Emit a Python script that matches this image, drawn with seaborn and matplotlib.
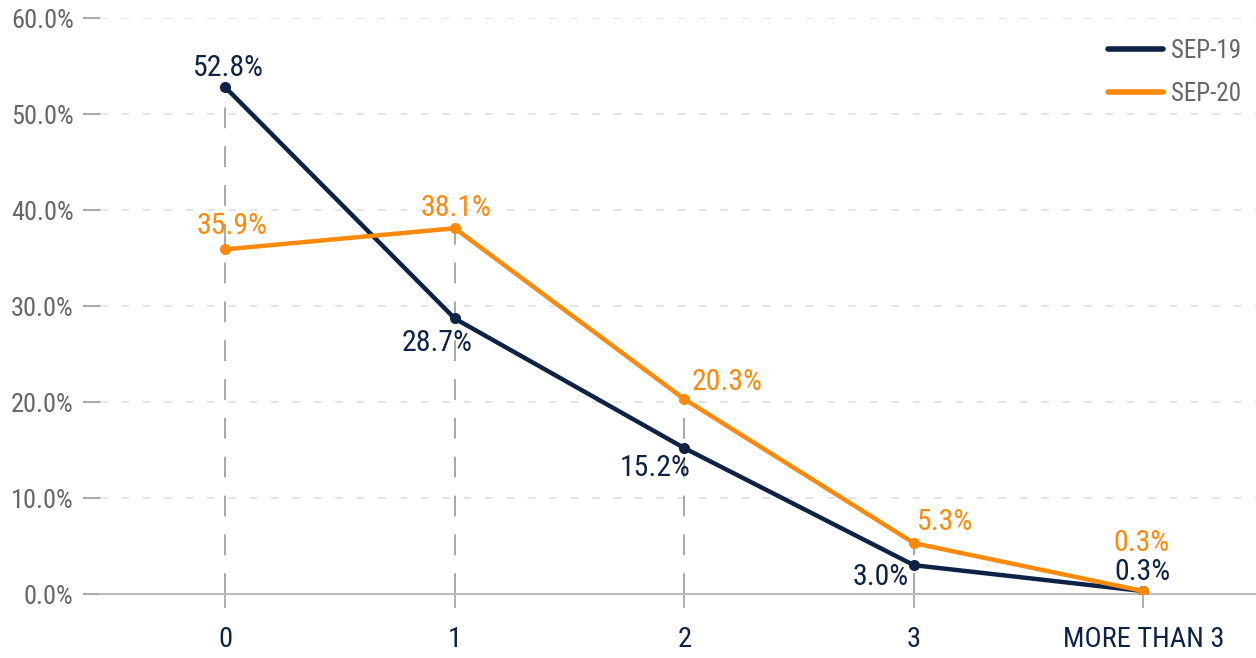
import matplotlib
matplotlib.use("Agg")
import matplotlib.pyplot as plt
from matplotlib import font_manager
import seaborn as sns
import pandas as pd

categories = ["0", "1", "2", "3", "MORE THAN 3"]
sep19 = [52.8, 28.7, 15.2, 3.0, 0.3]
sep20 = [35.9, 38.1, 20.3, 5.3, 0.3]
series_names = ["SEP-19", "SEP-20"]
yticks = [0, 10, 20, 30, 40, 50, 60]

NAVY = "#0d2245"
ORANGE = "#fb8a0c"
GREY_TXT = "#666666"

sns.set_theme(style="white")
names = {f.name for f in font_manager.fontManager.ttflist}
fam = "Roboto Condensed" if "Roboto Condensed" in names else "Roboto"
plt.rcParams["font.family"] = [fam, "DejaVu Sans"]

df = pd.DataFrame({
    "cat": categories * 2,
    "val": sep19 + sep20,
    "series": [series_names[0]] * len(categories) + [series_names[1]] * len(categories),
})

fig = plt.figure(figsize=(12.56, 6.58), dpi=100)
ax = fig.add_axes([100 / 1256, 64 / 658, 1156 / 1256, 576 / 658])

# vertical dashed guides from max point down to axis
tops = [max(a, b) for a, b in zip(sep19, sep20)]
ax.vlines(categories, 0, tops, colors="#a0a0a0", linestyles=(0, (11.5, 10)), linewidth=1.3, zorder=1)

sns.lineplot(data=df, x="cat", y="val", hue="series", palette=[NAVY, ORANGE],
             sort=False, marker="o", markersize=8, markeredgewidth=0,
             linewidth=3.2, ax=ax, zorder=3)

ax.set_xlim(-0.545, 4.49)
ax.set_ylim(0, 60)
ax.set_yticks(yticks)
ax.set_yticklabels([f"{v:.1f}%" for v in yticks], color=GREY_TXT, fontsize=19)
ax.set_xticks(range(len(categories)))
ax.set_xticklabels(categories, color=NAVY, fontsize=20.5)
ax.set_xlabel("")
ax.set_ylabel("")

ax.yaxis.grid(True, color="#dddddd", linestyle=(0, (5, 9)), linewidth=1.1)
ax.xaxis.grid(False)
for s in ["top", "right", "left"]:
    ax.spines[s].set_visible(False)
ax.spines["bottom"].set_color("#bbbbbb")
ax.spines["bottom"].set_linewidth(1.5)
ax.tick_params(axis="y", which="major", left=True, length=12, width=1.5, color="#aaaaaa", pad=7)
ax.tick_params(axis="x", which="major", bottom=True, length=10, width=1.3, color="#aaaaaa", pad=13)

# data labels: offsets (pixels) of label centre from point
off19 = [(3, -19), (-18, 25), (-29, 20), (-33, 12), (-1, -19)]
off20 = [(7, -23), (1, -20), (43, -17), (31, -21), (-2, -48)]
k = 0.72
for vals, offs, col in [(sep19, off19, NAVY), (sep20, off20, ORANGE)]:
    for c, v, (dx, dy) in zip(categories, vals, offs):
        ax.annotate(f"{v:.1f}%", xy=(c, v), xytext=(dx * k, -dy * k), textcoords="offset points",
                    ha="center", va="center", color=col, fontsize=21.5, zorder=5,
                    annotation_clip=False)

leg = ax.legend(loc="upper right", frameon=False, fontsize=18, handlelength=2.2,
                labelspacing=0.75, handletextpad=0.3, bbox_to_anchor=(1.0, 0.99),
                borderaxespad=0.2)
for t in leg.get_texts():
    t.set_color(GREY_TXT)
for l in leg.get_lines():
    l.set_linewidth(4)
    l.set_marker("")

fig.savefig("out.png", dpi=100)
